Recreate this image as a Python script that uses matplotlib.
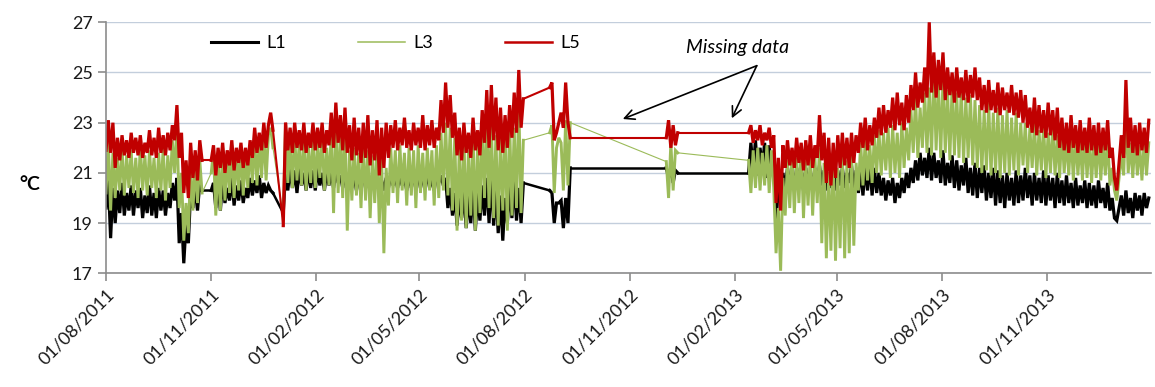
import pandas as pd
import matplotlib
matplotlib.use('Agg')
import matplotlib.pyplot as plt
import matplotlib.dates as mdates
from matplotlib.lines import Line2D

plt.rcParams['font.family'] = ['Lato', 'DejaVu Sans']

# logging periods (readings every 2 days, gaps in between are missing data)
seg_start = ['2011-08-01', '2011-11-01', '2012-01-03', '2012-08-23', '2012-12-03', '2013-02-13']

# L1 temperatures per period
l1 = [
    [19.6, 20.7, 18.4, 20.4, 19.0, 20.3, 19.4, 20.6, 19.3, 20.2, 19.5, 20.5, 19.3, 20.3, 19.6,
     20.4, 19.2, 20.1, 19.4, 20.5, 19.3, 20.2, 19.2, 20.4, 19.5, 20.3, 19.3, 20.2, 19.6, 20.6,
     19.9, 20.8, 18.2, 19.4, 17.4, 19.0, 18.2, 20.3, 19.6, 20.4, 19.5, 20.6, 20.3],
    [20.3, 20.6, 19.6, 20.5, 19.5, 20.7, 19.8, 20.4, 19.9, 20.8, 19.7, 20.5, 19.9, 20.7, 19.8,
     20.4, 20.0, 20.8, 20.1, 20.7, 20.2, 20.9, 20.0, 20.6, 20.2, 20.5, 20.3, 20.2],
    [19.4, 21.0, 20.3, 21.2, 20.4, 21.1, 20.2, 21.2, 20.5, 21.0, 20.3, 21.2, 20.4, 21.1, 20.3,
     21.2, 20.5, 21.0, 20.3, 21.1, 20.5, 21.0, 20.4, 21.1, 20.6, 20.9, 20.4, 21.0, 20.3, 20.8,
     20.4, 20.9, 20.3, 20.8, 20.5, 20.9, 20.4, 20.8, 20.3, 20.9, 20.4, 20.8, 20.2, 20.7, 20.3,
     20.8, 20.4, 20.9, 20.5, 20.8, 20.4, 20.9, 20.5, 20.8, 20.3, 20.9, 20.4, 20.8, 20.5, 20.9,
     20.4, 20.8, 20.5, 20.9, 20.4, 20.8, 20.3, 20.9, 20.6, 20.9, 20.5, 20.8, 19.6, 20.4, 19.3,
     20.2, 18.9, 20.0, 19.2, 20.3, 18.8, 20.1, 19.0, 20.4, 18.7, 20.2, 19.1, 20.5, 19.3, 20.8,
     19.0, 21.0, 18.9, 20.4, 18.6, 20.1, 18.3, 20.0, 19.0, 20.5, 19.2, 20.7, 19.1, 20.4, 19.0,
     20.6],
    [20.3, 20.2, 19.0, 19.8, 19.8, 19.9, 18.8, 20.0, 19.0, 21.2],
    [21.2, 20.8, 21.2, 20.6, 21.1, 21.0],
    [21.0, 22.2, 21.1, 22.3, 20.9, 22.0, 21.2, 22.2, 20.8, 22.1,
     21.0, 21.8, 18.9, 20.6, 19.8, 21.0, 20.4, 21.2, 20.5, 21.1,
     20.4, 21.2, 20.6, 21.1, 20.3, 21.2, 20.5, 21.0, 20.4, 21.2,
     20.6, 21.3, 20.5, 21.1, 20.3, 21.0, 20.4, 21.2, 20.3, 21.1,
     20.5, 21.2, 20.4, 21.0, 20.6, 21.3, 20.3, 21.1, 20.2, 21.2,
     20.1, 21.3, 20.3, 21.4, 20.1, 21.2, 20.2, 21.0, 20.1, 20.8,
     19.9, 20.7, 20.1, 20.8, 19.8, 20.6, 20.0, 20.8, 20.2, 21.0,
     20.4, 21.2, 20.6, 21.5, 20.7, 21.8, 20.9, 21.6, 20.8, 22.0,
     20.7, 21.8, 20.8, 21.5, 20.6, 21.9, 20.5, 21.4, 20.6, 21.7,
     20.4, 21.5, 20.3, 21.3, 20.5, 21.6, 20.2, 21.2, 20.1, 21.4,
     20.0, 21.2, 20.2, 21.3, 19.9, 21.0, 20.0, 21.2, 19.7, 21.1,
     19.8, 20.9, 19.6, 21.0, 19.9, 20.8, 19.7, 21.1, 19.8, 20.9,
     19.9, 21.2, 20.0, 20.9, 19.7, 21.0, 19.9, 20.8, 19.8, 21.1,
     19.7, 20.9, 19.9, 20.8, 19.6, 21.0, 19.8, 20.7, 19.7, 20.9,
     19.8, 20.6, 19.6, 20.8, 19.7, 20.5, 19.8, 20.7, 19.6, 20.6,
     19.7, 20.5, 19.6, 20.7, 19.8, 20.4, 19.6, 20.6, 19.5, 20.0,
     19.2, 19.1, 19.6, 20.1, 19.3, 20.3, 19.4, 20.0, 19.2, 20.2,
     19.5, 20.1, 19.3, 20.2, 19.6, 20.0],
]

# L3 temperatures per period
l3 = [
    [20.2, 22.2, 19.5, 21.8, 20.0, 21.6, 20.3, 22.0, 20.1, 21.7, 20.4, 21.9, 20.2, 21.6, 20.0,
     22.1, 20.3, 21.7, 20.1, 21.9, 20.4, 21.6, 20.0, 21.8, 20.3, 22.0, 19.9, 21.7, 20.4, 22.3,
     21.0, 22.9, 19.6, 21.0, 18.3, 19.8, 18.6, 21.2, 19.5, 21.4, 19.8, 21.5, 20.2],
    [21.0, 21.9, 19.3, 21.6, 19.5, 22.0, 19.9, 21.7, 20.2, 22.1, 20.0, 21.8, 20.3, 22.0, 20.1,
     21.7, 20.4, 22.1, 20.6, 22.4, 20.5, 22.3, 20.8, 22.6, 20.7, 22.5, 22.8, 22.0],
    [19.3, 22.9, 20.6, 22.3, 20.4, 22.5, 20.7, 22.2, 20.5, 22.4, 20.3, 22.1, 20.6, 22.4, 20.4,
     22.2, 20.8, 22.5, 20.3, 22.0, 20.5, 22.7, 19.4, 22.9, 20.2, 22.6, 20.0, 22.8, 18.7, 21.9,
     19.9, 22.0, 20.1, 21.8, 19.6, 22.1, 19.9, 21.9, 19.2, 21.7, 19.8, 22.0, 19.0, 21.6, 17.8,
     21.2, 19.7, 22.0, 20.2, 21.9, 19.8, 22.1, 20.3, 21.8, 19.7, 22.0, 20.1, 21.9, 19.6, 22.1,
     20.2, 21.8, 19.9, 22.0, 20.3, 21.9, 19.7, 22.1, 20.0, 22.6, 20.3, 23.0, 20.1, 22.8, 19.5,
     22.4, 18.7, 22.0, 19.1, 22.5, 18.8, 21.9, 19.3, 22.6, 18.7, 22.2, 19.4, 22.8, 20.0, 23.2,
     19.6, 23.0, 19.2, 22.5, 18.9, 22.4, 19.5, 22.7, 18.7, 23.0, 19.3, 22.8, 19.6, 23.8, 19.4,
     22.3],
    [22.6, 22.9, 20.2, 22.0, 22.4, 22.2, 20.3, 23.1, 20.5, 23.0],
    [21.45, 20.0, 22.2, 20.3, 21.9, 21.8],
    [21.5, 20.2, 21.9, 20.4, 22.0, 20.3, 21.8, 20.5, 22.1, 20.2,
     21.9, 20.4, 17.8, 19.6, 17.1, 20.8, 19.3, 21.5, 19.6, 21.8,
     19.4, 21.6, 19.8, 22.0, 19.2, 21.5, 19.7, 21.8, 19.3, 21.6,
     19.8, 22.0, 18.2, 21.4, 17.6, 21.0, 17.9, 21.7, 17.5, 21.2,
     18.0, 21.9, 17.6, 21.5, 17.8, 22.0, 18.1, 21.4, 20.3, 22.2,
     20.5, 22.3, 20.7, 22.1, 20.6, 22.5, 21.0, 22.7, 20.9, 22.6,
     21.1, 22.8, 20.8, 22.9, 21.0, 22.6, 20.8, 23.0, 21.2, 22.8,
     21.5, 23.5, 21.8, 24.0, 21.6, 23.6, 22.0, 24.2, 21.8, 24.4,
     21.7, 25.0, 21.9, 24.6, 21.6, 24.8, 21.8, 24.3, 21.5, 24.5,
     21.7, 24.2, 21.6, 24.4, 21.4, 24.0, 21.6, 24.1, 21.3, 23.9,
     21.2, 23.7, 21.0, 23.5, 21.1, 23.8, 20.9, 23.4, 21.0, 23.6,
     20.8, 23.3, 21.0, 23.5, 20.9, 23.2, 21.1, 23.4, 20.9, 23.0,
     21.3, 23.0, 21.0, 22.8, 21.2, 23.0, 20.9, 22.7, 21.1, 22.9,
     20.8, 22.6, 21.0, 22.9, 20.9, 22.5, 20.8, 22.7, 21.0, 22.4,
     20.9, 22.6, 20.7, 22.5, 20.9, 22.3, 20.7, 22.6, 20.8, 22.4,
     20.6, 22.3, 20.8, 22.5, 20.7, 22.2, 20.9, 22.4, 20.5, 21.2,
     20.3, 19.9, 20.8, 21.8, 20.9, 23.4, 21.0, 22.2, 20.8, 22.4,
     20.9, 22.1, 20.7, 22.3, 20.9, 22.2],
]

# L5 temperatures per period
l5 = [
    [21.9, 23.1, 21.8, 23.0, 21.2, 22.4, 21.5, 22.5, 21.7, 22.3, 21.6, 22.6, 21.8, 22.4, 21.7,
     22.5, 21.6, 22.2, 21.8, 22.7, 21.7, 22.4, 21.6, 22.8, 21.8, 22.5, 21.7, 22.6, 21.9, 22.9,
     22.3, 23.7, 21.6, 22.6, 20.2, 21.5, 20.0, 22.2, 20.8, 21.9, 20.7, 22.3, 21.5],
    [21.5, 22.1, 20.9, 22.0, 21.2, 22.2, 21.0, 21.9, 21.3, 22.3, 21.1, 22.0, 21.4, 22.2, 21.2,
     22.0, 21.3, 22.3, 21.6, 22.8, 21.8, 22.6, 21.9, 23.0, 22.0, 22.9, 23.4, 22.7],
    [18.9, 23.0, 21.9, 22.8, 21.8, 23.0, 22.0, 22.7, 21.9, 23.0, 21.8, 22.6, 22.0, 23.0, 21.9,
     22.8, 22.0, 23.0, 21.8, 22.7, 22.1, 23.4, 22.0, 23.8, 22.2, 23.3, 21.9, 23.6, 21.8, 22.9,
     21.5, 23.2, 21.7, 22.8, 21.4, 23.0, 21.6, 23.3, 21.3, 22.7, 21.5, 23.1, 20.9, 22.8, 21.2,
     23.0, 21.6, 22.9, 22.0, 23.1, 21.9, 22.8, 22.1, 23.2, 22.0, 22.7, 21.9, 23.0, 22.1, 22.8,
     22.0, 23.3, 21.9, 22.9, 22.1, 23.1, 22.0, 22.8, 22.3, 23.9, 22.6, 24.6, 22.8, 24.1, 22.4,
     23.4, 21.7, 22.8, 21.5, 23.0, 21.8, 22.6, 21.6, 23.2, 21.9, 22.7, 21.7, 23.5, 22.2, 24.3,
     22.0, 24.5, 22.3, 24.0, 21.9, 23.6, 21.8, 23.3, 22.0, 23.7, 22.4, 24.2, 22.6, 25.1, 22.8,
     23.95],
    [24.4, 24.6, 22.3, 22.6, 23.0, 23.4, 22.8, 24.6, 23.0, 22.4],
    [22.4, 23.1, 22.0, 22.9, 22.1, 22.6],
    [22.6, 22.9, 22.2, 22.7, 22.3, 22.9, 22.1, 22.6, 22.3, 22.8,
     22.0, 22.5, 19.8, 21.6, 19.5, 22.1, 21.2, 22.3, 21.3, 22.0,
     21.2, 22.4, 21.4, 22.2, 21.1, 22.3, 21.3, 22.5, 21.2, 22.1,
     21.6, 23.3, 21.5, 22.6, 20.6, 22.4, 20.5, 22.2, 20.8, 22.5,
     21.2, 22.6, 21.3, 22.4, 21.2, 22.6, 21.4, 22.5, 21.8, 23.0,
     22.0, 23.2, 21.9, 22.9, 22.1, 23.2, 22.4, 23.6, 22.5, 23.7,
     22.6, 23.5, 22.8, 24.0, 22.7, 24.2, 22.9, 23.8, 22.7, 24.1,
     23.0, 24.5, 23.5, 25.0, 23.6, 24.6, 23.8, 25.2, 24.0, 27.0,
     24.2, 25.8, 24.0, 25.5, 24.3, 25.8, 23.9, 25.2, 24.1, 25.0,
     23.8, 25.2, 24.0, 24.8, 23.9, 25.1, 23.8, 24.9, 24.0, 25.2,
     23.9, 24.8, 23.5, 24.5, 23.4, 24.7, 23.5, 24.3, 23.4, 24.6,
     23.3, 24.4, 23.5, 24.2, 23.4, 24.5, 23.3, 24.2, 23.2, 24.3,
     23.0, 24.1, 22.8, 23.6, 22.6, 24.0, 22.5, 23.7, 22.6, 23.5,
     22.4, 23.8, 22.5, 23.5, 22.3, 23.6, 22.0, 23.2, 21.9, 23.0,
     21.8, 23.3, 22.0, 22.9, 21.8, 23.1, 21.9, 22.8, 21.8, 23.2,
     21.9, 22.9, 21.7, 23.0, 21.8, 22.8, 21.9, 23.1, 21.6, 22.0,
     20.8, 20.3, 21.4, 22.5, 21.6, 24.7, 22.0, 23.2, 21.8, 22.9,
     21.7, 23.0, 21.9, 22.8, 21.8, 23.1],
]

tick_dates = ['2011-08-01', '2011-11-01', '2012-02-01', '2012-05-01', '2012-08-01',
              '2012-11-01', '2013-02-01', '2013-05-01', '2013-08-01', '2013-11-01']


def seg_times(start, n):
    return pd.date_range(start, periods=n, freq='2D')


fig = plt.figure(figsize=(11.55, 3.87), dpi=100)
ax = fig.add_axes([0.0918, 0.2938, 0.9048, 0.6486])

# name, values, colour, width of logged stretches, width of lines bridging gaps
series = [('L1', l1, '#000000', 2.3, 1.8),
          ('L3', l3, '#9BBB59', 2.1, 0.8),
          ('L5', l5, '#C00000', 2.3, 1.5)]
for name, segs, col, lw, gap_lw in series:
    prev = None
    for start, vals in zip(seg_start, segs):
        t = seg_times(start, len(vals))
        if prev is not None:
            # Excel joins the last reading before a gap to the first one after it
            ax.plot([prev[0], t[0]], [prev[1], vals[0]], color=col, lw=gap_lw)
        ax.plot(t, vals, color=col, lw=lw, solid_joinstyle='miter')
        prev = (t[-1], vals[-1])

ax.set_xlim(pd.Timestamp('2011-08-01'), pd.Timestamp('2014-01-31'))
ax.set_ylim(17, 27)
ax.set_yticks([17, 19, 21, 23, 25, 27])
ax.set_xticks(pd.to_datetime(tick_dates))
ax.xaxis.set_major_formatter(mdates.DateFormatter('%d/%m/%Y'))
ax.grid(axis='y', color='#C3CEDC', lw=1.0)
ax.set_axisbelow(True)
for s in ['top', 'right']:
    ax.spines[s].set_visible(False)
for s in ['left', 'bottom']:
    ax.spines[s].set_color('#8C8C8C')
    ax.spines[s].set_linewidth(1.2)
ax.tick_params(axis='both', colors='#8C8C8C', length=6, width=1.2, labelsize=13, labelcolor='#1A1A1A')
for lab in ax.get_xticklabels():
    lab.set_rotation(45)
    lab.set_ha('right')
    lab.set_rotation_mode('anchor')

fig.text(0.026, 0.522, '°C', fontsize=14, fontweight='bold', ha='center', va='center')

handles = [Line2D([], [], color='#000000', lw=2.2),
           Line2D([], [], color='#9BBB59', lw=1.1),
           Line2D([], [], color='#C00000', lw=1.8)]
ax.legend(handles, ['L1', 'L3', 'L5'], loc='center left', bbox_to_anchor=(0.085, 0.9175),
          ncol=3, frameon=False, fontsize=13, handlelength=2.6, handletextpad=0.45,
          columnspacing=4.0)

ax.text(0.604, 0.8976, 'Missing data', transform=ax.transAxes, fontsize=14,
        style='italic', ha='center', va='center')
for head in [(0.4945, 0.6147), (0.5988, 0.6175)]:
    ax.annotate('', xy=head, xycoords='axes fraction', xytext=(0.6227, 0.8271),
                textcoords='axes fraction',
                arrowprops=dict(arrowstyle='->,head_length=0.7,head_width=0.35', color='black',
                                lw=1.2, shrinkA=0, shrinkB=0))

fig.savefig('out.png', dpi=100)
